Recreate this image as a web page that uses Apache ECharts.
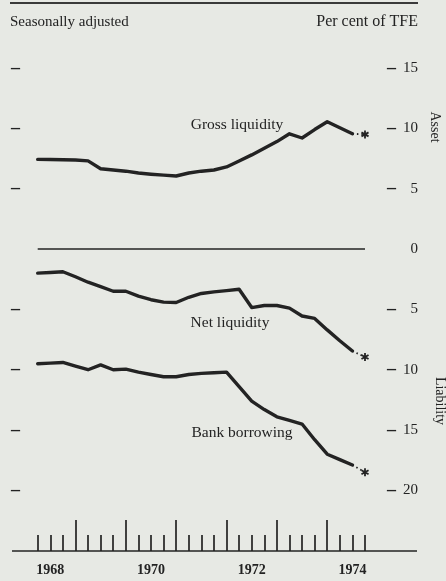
<!DOCTYPE html>
<html>
<head>
<meta charset="utf-8">
<script src="https://cdn.jsdelivr.net/npm/echarts@6/dist/echarts.min.js"></script>
<style>
html,body{margin:0;padding:0;background:#e7e9e4;}
#chart{width:446px;height:581px;}
</style>
</head>
<body>
<div id="chart"></div>
<script>
// ---- data (quarterly, 1968 Q1 .. 1974 Q3; last point is the starred estimate) ----
const quarters = [];
for (let y = 1968; y <= 1974; y++) {
  for (let q = 1; q <= 4; q++) {
    if (y === 1974 && q > 3) break;
    quarters.push(y + ' Q' + q);
  }
}
// per cent of TFE; assets positive, liabilities negative
const grossLiquidity = [7.43, 7.42, 7.40, 7.38, 7.30, 6.65, 6.55, 6.45, 6.30, 6.20, 6.12, 6.05, 6.30, 6.45, 6.55, 6.80, 7.30, 7.80, 8.35, 8.90, 9.55, 9.20, 9.90, 10.55, 10.05, 9.55, 9.50];
const netLiquidity   = [-2.00, -1.95, -1.88, -2.30, -2.75, -3.12, -3.50, -3.50, -3.90, -4.20, -4.40, -4.43, -4.00, -3.68, -3.55, -3.45, -3.33, -4.85, -4.68, -4.68, -4.90, -5.55, -5.75, -6.70, -7.60, -8.45, -8.95];
const bankBorrowing  = [-9.50, -9.45, -9.40, -9.70, -10.00, -9.60, -10.00, -9.95, -10.20, -10.40, -10.58, -10.58, -10.40, -10.30, -10.25, -10.20, -11.40, -12.60, -13.30, -13.90, -14.20, -14.50, -15.80, -17.00, -17.45, -17.90, -18.50];
const yearLabels = ['1968', '1970', '1972', '1974'];
const yMin = -20, yMax = 15, yStep = 5;

// ---- styling helpers ----
const ink = '#232323';
const FONT = 'Liberation Serif';
function starPath() {
  const L = 5, w = 1.1, parts = [];
  [90, 30, 150].forEach(function (deg) {
    const a = deg * Math.PI / 180, dx = Math.cos(a), dy = Math.sin(a), px = -dy, py = dx;
    const pts = [[L*dx + w*px, L*dy + w*py], [L*dx - w*px, L*dy - w*py], [-L*dx - w*px, -L*dy - w*py], [-L*dx + w*px, -L*dy + w*py]];
    parts.push('M' + pts.map(p => p[0].toFixed(3) + ',' + p[1].toFixed(3)).join('L') + 'Z');
  });
  return 'path://' + parts.join('');
}
const STAR = starPath();
const lastIdx = quarters.length - 1;

function solidPart(arr) { return arr.map((v, i) => i < lastIdx ? v : null); }
function dottedPart(arr) { return arr.map((v, i) => i >= lastIdx - 1 ? v : null); }

function seriesPair(name, arr, withZero) {
  const solid = {
    name: name, type: 'line', xAxisIndex: 0, yAxisIndex: 0,
    data: solidPart(arr), symbol: 'none', silent: true,
    lineStyle: { color: ink, width: 3.4, cap: 'round', join: 'round' }
  };
  if (withZero) {
    solid.markLine = {
      silent: true, symbol: 'none', label: { show: false },
      lineStyle: { color: ink, width: 1.5, type: 'solid' },
      data: [{ yAxis: 0 }]
    };
  }
  const dotted = {
    name: name + ' estimate', type: 'line', xAxisIndex: 0, yAxisIndex: 0,
    data: dottedPart(arr), symbol: STAR, showAllSymbol: true, silent: true,
    symbolSize: function (v, p) { return p.dataIndex === lastIdx ? 8 : 0; },
    itemStyle: { color: ink },
    lineStyle: { color: ink, width: 1.8, type: [1.5, 3] }
  };
  return [solid, dotted];
}

const isQ4 = (i) => quarters[i] && quarters[i].endsWith('Q4');
const yearLabelAt = {};
quarters.forEach(function (q, i) {
  const yr = q.slice(0, 4);
  if (q.endsWith('Q2') && yearLabels.indexOf(yr) >= 0) yearLabelAt[i] = yr;
});

const gridL = 37.7, gridR = 81;
const chart = echarts.init(document.getElementById('chart'), null, { renderer: 'canvas' });
chart.setOption({
  animation: false,
  backgroundColor: '#e7e9e4',
  textStyle: { fontFamily: FONT, color: ink },
  grid: [
    { left: gridL, right: gridR, top: 68, height: 422.4 },
    { left: gridL, right: gridR, top: 520, height: 31 },
    { left: gridL, right: gridR, top: 520, height: 31 }
  ],
  xAxis: [
    { gridIndex: 0, type: 'category', data: quarters, boundaryGap: false, show: false },
    { gridIndex: 1, type: 'category', data: quarters, boundaryGap: false,
      axisLine: { show: false },
      axisTick: { show: true, inside: true, length: 16, interval: (i) => !isQ4(i), lineStyle: { color: ink, width: 1.7 } },
      axisLabel: { show: true, interval: 0, margin: 12, fontFamily: FONT, fontSize: 14, fontWeight: 'bold', color: ink,
        formatter: function (v, i) { return yearLabelAt[i] || ''; } },
      splitLine: { show: false } },
    { gridIndex: 2, type: 'category', data: quarters, boundaryGap: false,
      axisLine: { show: false },
      axisTick: { show: true, inside: true, length: 31, interval: (i) => isQ4(i), lineStyle: { color: ink, width: 1.7 } },
      axisLabel: { show: false }, splitLine: { show: false } }
  ],
  yAxis: [
    { gridIndex: 0, type: 'value', min: yMin, max: yMax, interval: yStep, position: 'left',
      axisLine: { show: false }, axisTick: { show: false }, splitLine: { show: false },
      axisLabel: { margin: 17.7, fontFamily: FONT, fontSize: 18, fontWeight: 'bold', color: ink,
        formatter: (v) => v === 0 ? '' : '–' } },
    { gridIndex: 0, type: 'value', min: yMin, max: yMax, interval: yStep, position: 'right',
      axisLine: { show: false }, axisTick: { show: false }, splitLine: { show: false },
      axisLabel: { margin: 22, fontFamily: FONT, fontSize: 18, fontWeight: 'bold', color: ink,
        formatter: (v) => v === 0 ? '' : '–' } },
    { gridIndex: 0, type: 'value', min: yMin, max: yMax, interval: yStep, position: 'right',
      axisLine: { show: false }, axisTick: { show: false }, splitLine: { show: false },
      axisLabel: { margin: 53, align: 'right', fontFamily: FONT, fontSize: 15, color: ink,
        formatter: (v) => String(Math.abs(v)) } },
    { gridIndex: 1, type: 'value', show: false },
    { gridIndex: 2, type: 'value', show: false }
  ],
  series: [].concat(
    seriesPair('Gross liquidity', grossLiquidity, true),
    seriesPair('Net liquidity', netLiquidity, false),
    seriesPair('Bank borrowing', bankBorrowing, false)
  ),
  graphic: [
    { type: 'line', silent: true, shape: { x1: 10, y1: 3, x2: 418, y2: 3 }, style: { stroke: '#3a3a3a', lineWidth: 2 } },
    { type: 'line', silent: true, shape: { x1: 12, y1: 551, x2: 417, y2: 551 }, style: { stroke: ink, lineWidth: 1.6 } },
    { type: 'text', silent: true, x: 10, y: 22, style: { text: 'Seasonally adjusted', font: '15px "Liberation Serif"', fill: ink, align: 'left', verticalAlign: 'middle' } },
    { type: 'text', silent: true, x: 418, y: 22, style: { text: 'Per cent of TFE', font: '16px "Liberation Serif"', fill: ink, align: 'right', verticalAlign: 'middle' } },
    { type: 'text', silent: true, x: 237, y: 125, style: { text: 'Gross liquidity', font: '15.5px "Liberation Serif"', fill: ink, align: 'center', verticalAlign: 'middle' } },
    { type: 'text', silent: true, x: 230, y: 323, style: { text: 'Net liquidity', font: '15.5px "Liberation Serif"', fill: ink, align: 'center', verticalAlign: 'middle' } },
    { type: 'text', silent: true, x: 242, y: 433, style: { text: 'Bank borrowing', font: '15.5px "Liberation Serif"', fill: ink, align: 'center', verticalAlign: 'middle' } },
    { type: 'text', silent: true, x: 435, y: 127, rotation: -Math.PI / 2, style: { text: 'Asset', font: '14px "Liberation Serif"', fill: ink, align: 'center', verticalAlign: 'middle' } },
    { type: 'text', silent: true, x: 440, y: 401, rotation: -Math.PI / 2, style: { text: 'Liability', font: '14px "Liberation Serif"', fill: ink, align: 'center', verticalAlign: 'middle' } }
  ]
});
</script>
</body>
</html>
